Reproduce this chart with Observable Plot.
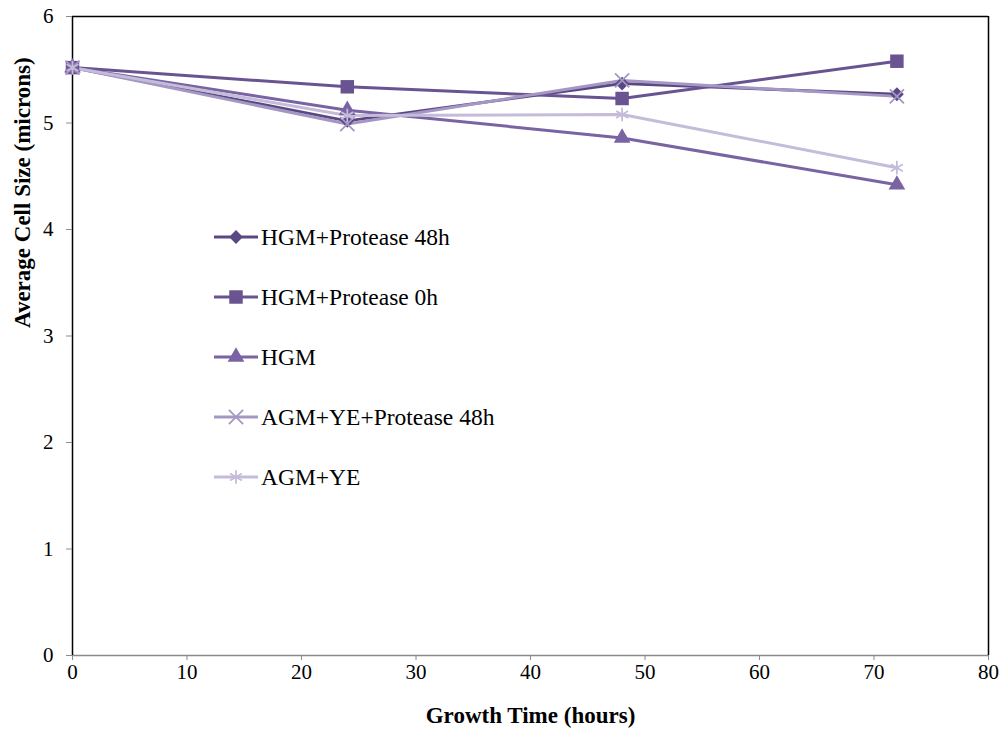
<!DOCTYPE html>
<html>
<head>
<meta charset="utf-8">
<script src="https://cdn.jsdelivr.net/npm/d3@7"></script>
<script src="https://cdn.jsdelivr.net/npm/@observablehq/plot@0.6"></script>
<style>
  html, body { margin: 0; padding: 0; background: #fff; }
  #chart { position: relative; width: 1003px; height: 733px; }
  #legend { position: absolute; left: 214px; top: 217px; font-family: "Liberation Serif", "Times New Roman", serif; font-size: 23.5px; color: #000; }
  #legend .row { display: flex; align-items: center; height: 40px; margin-bottom: 20px; }
  #legend svg { margin-right: 3px; }
</style>
</head>
<body>
<div id="chart"><div id="legend"></div></div>
<script>
// Growth time (hours) at which the cell size was measured
const hours = [0, 24, 48, 72];

// Series names, in legend order
const seriesNames = ["HGM+Protease 48h", "HGM+Protease 0h", "HGM", "AGM+YE+Protease 48h", "AGM+YE"];

// Average cell size (microns) for each series
const hgmProtease48 = [5.52, 5.02, 5.37, 5.27];
const hgmProtease0 = [5.52, 5.34, 5.23, 5.58];
const hgm = [5.52, 5.12, 4.86, 4.42];
const agmYeProtease48 = [5.52, 4.99, 5.40, 5.25];
const agmYe = [5.52, 5.07, 5.08, 4.58];

// Axis ticks
const xTicks = [0, 10, 20, 30, 40, 50, 60, 70, 80];
const yTicks = [0, 1, 2, 3, 4, 5, 6];

// Per-series line colour and marker
const colors = ["#5a4884", "#6a5391", "#7a63a3", "#a597c3", "#c5bcd9"];
const symbols = ["diamond2", "square", "triangle", "times", "asterisk"];
const filled = [true, true, true, false, false];
const sizes = [6.2, 7.6, 6.2, 6.5, 6.5];

const values = [hgmProtease48, hgmProtease0, hgm, agmYeProtease48, agmYe];
const rows = [];
seriesNames.forEach((name, i) => {
  hours.forEach((h, j) => rows.push({series: name, idx: i, hour: h, size: values[i][j]}));
});

const marks = [
  Plot.ruleY([0], {stroke: "#8a8a8a", strokeWidth: 1.5}),
  Plot.ruleY([6], {stroke: "#000", strokeWidth: 1.5}),
  Plot.ruleX([0], {stroke: "#000", strokeWidth: 1.5}),
  Plot.ruleX([80], {stroke: "#000", strokeWidth: 1.5}),
  Plot.axisX({ticks: xTicks, tickFormat: d => String(d), tickSize: 5, tickPadding: 4, stroke: "#8a8a8a", fontSize: 21, label: null}),
  Plot.axisY({ticks: yTicks, tickFormat: d => String(d), tickSize: 6, tickPadding: 13, stroke: "#8a8a8a", fontSize: 21, label: null}),
  Plot.text(["Growth Time (hours)"], {frameAnchor: "bottom", dy: 67, fontWeight: "bold", fontSize: 23}),
  Plot.text(["Average Cell Size (microns)"], {frameAnchor: "left", dx: -50, dy: -8, rotate: -90, fontWeight: "bold", fontSize: 23})
];

seriesNames.forEach((name, i) => {
  const d = rows.filter(r => r.idx === i);
  marks.push(Plot.line(d, {x: "hour", y: "size", stroke: colors[i], strokeWidth: 3}));
});
seriesNames.forEach((name, i) => {
  const d = rows.filter(r => r.idx === i);
  marks.push(Plot.dot(d, {
    x: "hour", y: "size", symbol: () => symbols[i], r: sizes[i],
    fill: filled[i] ? colors[i] : "none",
    stroke: colors[i], strokeWidth: filled[i] ? 0 : 1.8
  }));
});

const chart = Plot.plot({
  width: 1003,
  height: 733,
  marginLeft: 72,
  marginRight: 15,
  marginTop: 16,
  marginBottom: 78,
  style: {fontFamily: "Liberation Serif, Times New Roman, serif", fontSize: "21px", color: "#000", background: "#fff"},
  x: {domain: [0, 80]},
  y: {domain: [0, 6]},
  marks
});
document.getElementById("chart").prepend(chart);

// Legend: short line sample with marker, then series name
const legend = d3.select("#legend");
const symbolMap = {diamond2: d3.symbolDiamond2, square: d3.symbolSquare, triangle: d3.symbolTriangle, times: d3.symbolTimes, asterisk: d3.symbolAsterisk};
seriesNames.forEach((name, i) => {
  const row = legend.append("div").attr("class", "row");
  const svg = row.append("svg").attr("width", 44).attr("height", 20);
  svg.append("line").attr("x1", 0).attr("x2", 44).attr("y1", 10).attr("y2", 10)
    .attr("stroke", colors[i]).attr("stroke-width", 3);
  const r = sizes[i];
  svg.append("path")
    .attr("transform", "translate(22,10)")
    .attr("d", d3.symbol(symbolMap[symbols[i]], Math.PI * r * r)())
    .attr("fill", filled[i] ? colors[i] : "none")
    .attr("stroke", filled[i] ? "none" : colors[i])
    .attr("stroke-width", 1.8);
  row.append("span").text(name);
});
</script>
</body>
</html>
